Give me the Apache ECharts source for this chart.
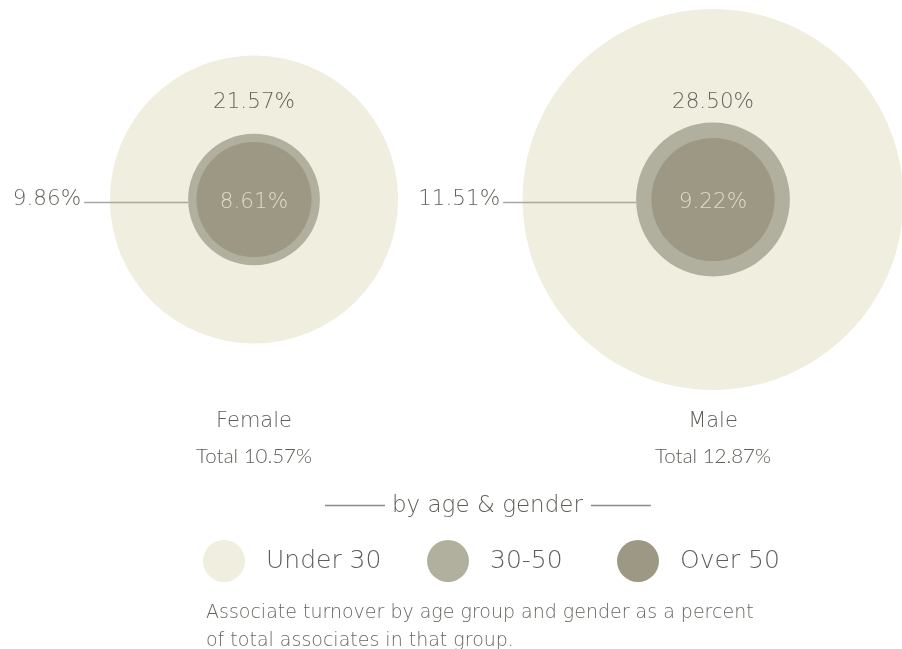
<!DOCTYPE html>
<html>
<head>
<meta charset="utf-8">
<title>Associate turnover by age &amp; gender</title>
<script src="https://cdn.jsdelivr.net/npm/echarts@6/dist/echarts.min.js"></script>
<style>
  html, body { margin: 0; padding: 0; background: #ffffff; }
  #chart { width: 902px; height: 649px; }
</style>
</head>
<body>
<div id="chart"></div>
<script>
// Turnover rates (% of associates in each group)
const categories = ['Female', 'Male'];
const totals = [10.57, 12.87];
const under30 = [21.57, 28.50];
const age30to50 = [9.86, 11.51];
const over50 = [8.61, 9.22];
const groupNames = ['Under 30', '30-50', 'Over 50'];

// Bubble radius is proportional to the rate
const PX_PER_PCT = 6.68;
// Length of the leader line between the 30-50 ring and its side label
const leaderLength = [104, 133];
// Left edge of each legend entry
const legendLeft = [198, 422, 612];

const FONT = '"DejaVu Sans", Verdana, sans-serif';
const NARROW = 'Lato, "Open Sans", sans-serif';
const colors = ['#efeedf', '#b1af9d', '#9c9883'];

const fmt = v => v.toFixed(2) + '%';
const toPoints = arr => arr.map((v, i) => [categories[i], 0, v]);
const sizeOf = val => val[2] * PX_PER_PCT * 2;

const valueText = {
  fontFamily: FONT, fontSize: 21.5, fontWeight: 200, color: '#64645d'
};

const chart = echarts.init(document.getElementById('chart'), null, { renderer: 'canvas' });

chart.setOption({
  animation: false,
  backgroundColor: '#ffffff',
  textStyle: { fontFamily: FONT },
  grid: { left: 254, right: 189, top: 100, bottom: 350 },
  xAxis: {
    type: 'category',
    data: categories,
    boundaryGap: false,
    axisLine: { show: false },
    axisTick: { show: false },
    splitLine: { show: false },
    axisLabel: {
      margin: 106,
      formatter: (name, idx) => '{name|' + name + '}\n{total|Total ' + fmt(totals[idx]) + '}',
      rich: {
        name: { fontFamily: FONT, fontSize: 21, fontWeight: 200, color: '#5e5e58', lineHeight: 34 },
        total: { fontFamily: NARROW, fontSize: 20.5, fontWeight: 300, color: '#5e5e58', lineHeight: 34 }
      }
    }
  },
  yAxis: {
    type: 'value', min: -1, max: 1, show: false
  },
  title: [
    {
      text: '{l|}{t|by age & gender}{l|}',
      left: 320, top: 488,
      textStyle: {
        fontFamily: FONT, fontSize: 23, fontWeight: 'normal', color: '#6d6d68',
        rich: {
          l: { width: 60, height: 1.5, backgroundColor: '#8c8c86' },
          t: { fontFamily: FONT, fontSize: 23, fontWeight: 200, color: '#5e5e58', padding: [2, 8, 0, 7] }
        }
      }
    },
    {
      text: 'Associate turnover by age group and gender as a percent\nof total associates in that group.',
      left: 201, top: 594,
      textStyle: {
        fontFamily: FONT, fontSize: 19, fontWeight: 200, color: '#66665f', lineHeight: 28
      }
    }
  ],
  legend: groupNames.map((name, i) => ({
    data: [name],
    left: legendLeft[i], top: 535,
    icon: 'circle',
    itemWidth: 42, itemHeight: 42,
    selectedMode: false,
    textStyle: { fontFamily: FONT, fontSize: 25, fontWeight: 200, color: '#5e5e58', padding: [0, 0, 0, 16] }
  })),
  series: [
    {
      name: groupNames[0],
      type: 'scatter',
      data: toPoints(under30),
      symbolSize: sizeOf,
      itemStyle: { color: colors[0], opacity: 1 },
      label: Object.assign({
        show: true, position: 'inside', offset: [0, -97],
        formatter: p => fmt(p.value[2])
      }, valueText),
      emphasis: { disabled: true },
      z: 1
    },
    {
      name: groupNames[1],
      type: 'scatter',
      // side label carries its own leader line as a thin rich-text box
      data: toPoints(age30to50).map((v, i) => ({
        value: v,
        label: {
          rich: { l: { width: leaderLength[i], height: 1.5, backgroundColor: '#aaa99d' } }
        }
      })),
      symbolSize: sizeOf,
      itemStyle: { color: colors[1], opacity: 1 },
      label: {
        show: true, position: 'left', distance: 0, offset: [0, 3],
        formatter: p => '{v|' + fmt(p.value[2]) + '}{l|}',
        rich: {
          v: Object.assign({ padding: [0, 3, 7, 0] }, valueText)
        }
      },
      emphasis: { disabled: true },
      z: 2
    },
    {
      name: groupNames[2],
      type: 'scatter',
      data: toPoints(over50),
      symbolSize: sizeOf,
      itemStyle: { color: colors[2], opacity: 1 },
      label: Object.assign({
        show: true, position: 'inside', offset: [0, 3],
        formatter: p => fmt(p.value[2])
      }, valueText, { color: '#dedccd' }),
      emphasis: { disabled: true },
      z: 3
    }
  ]
});
</script>
</body>
</html>
